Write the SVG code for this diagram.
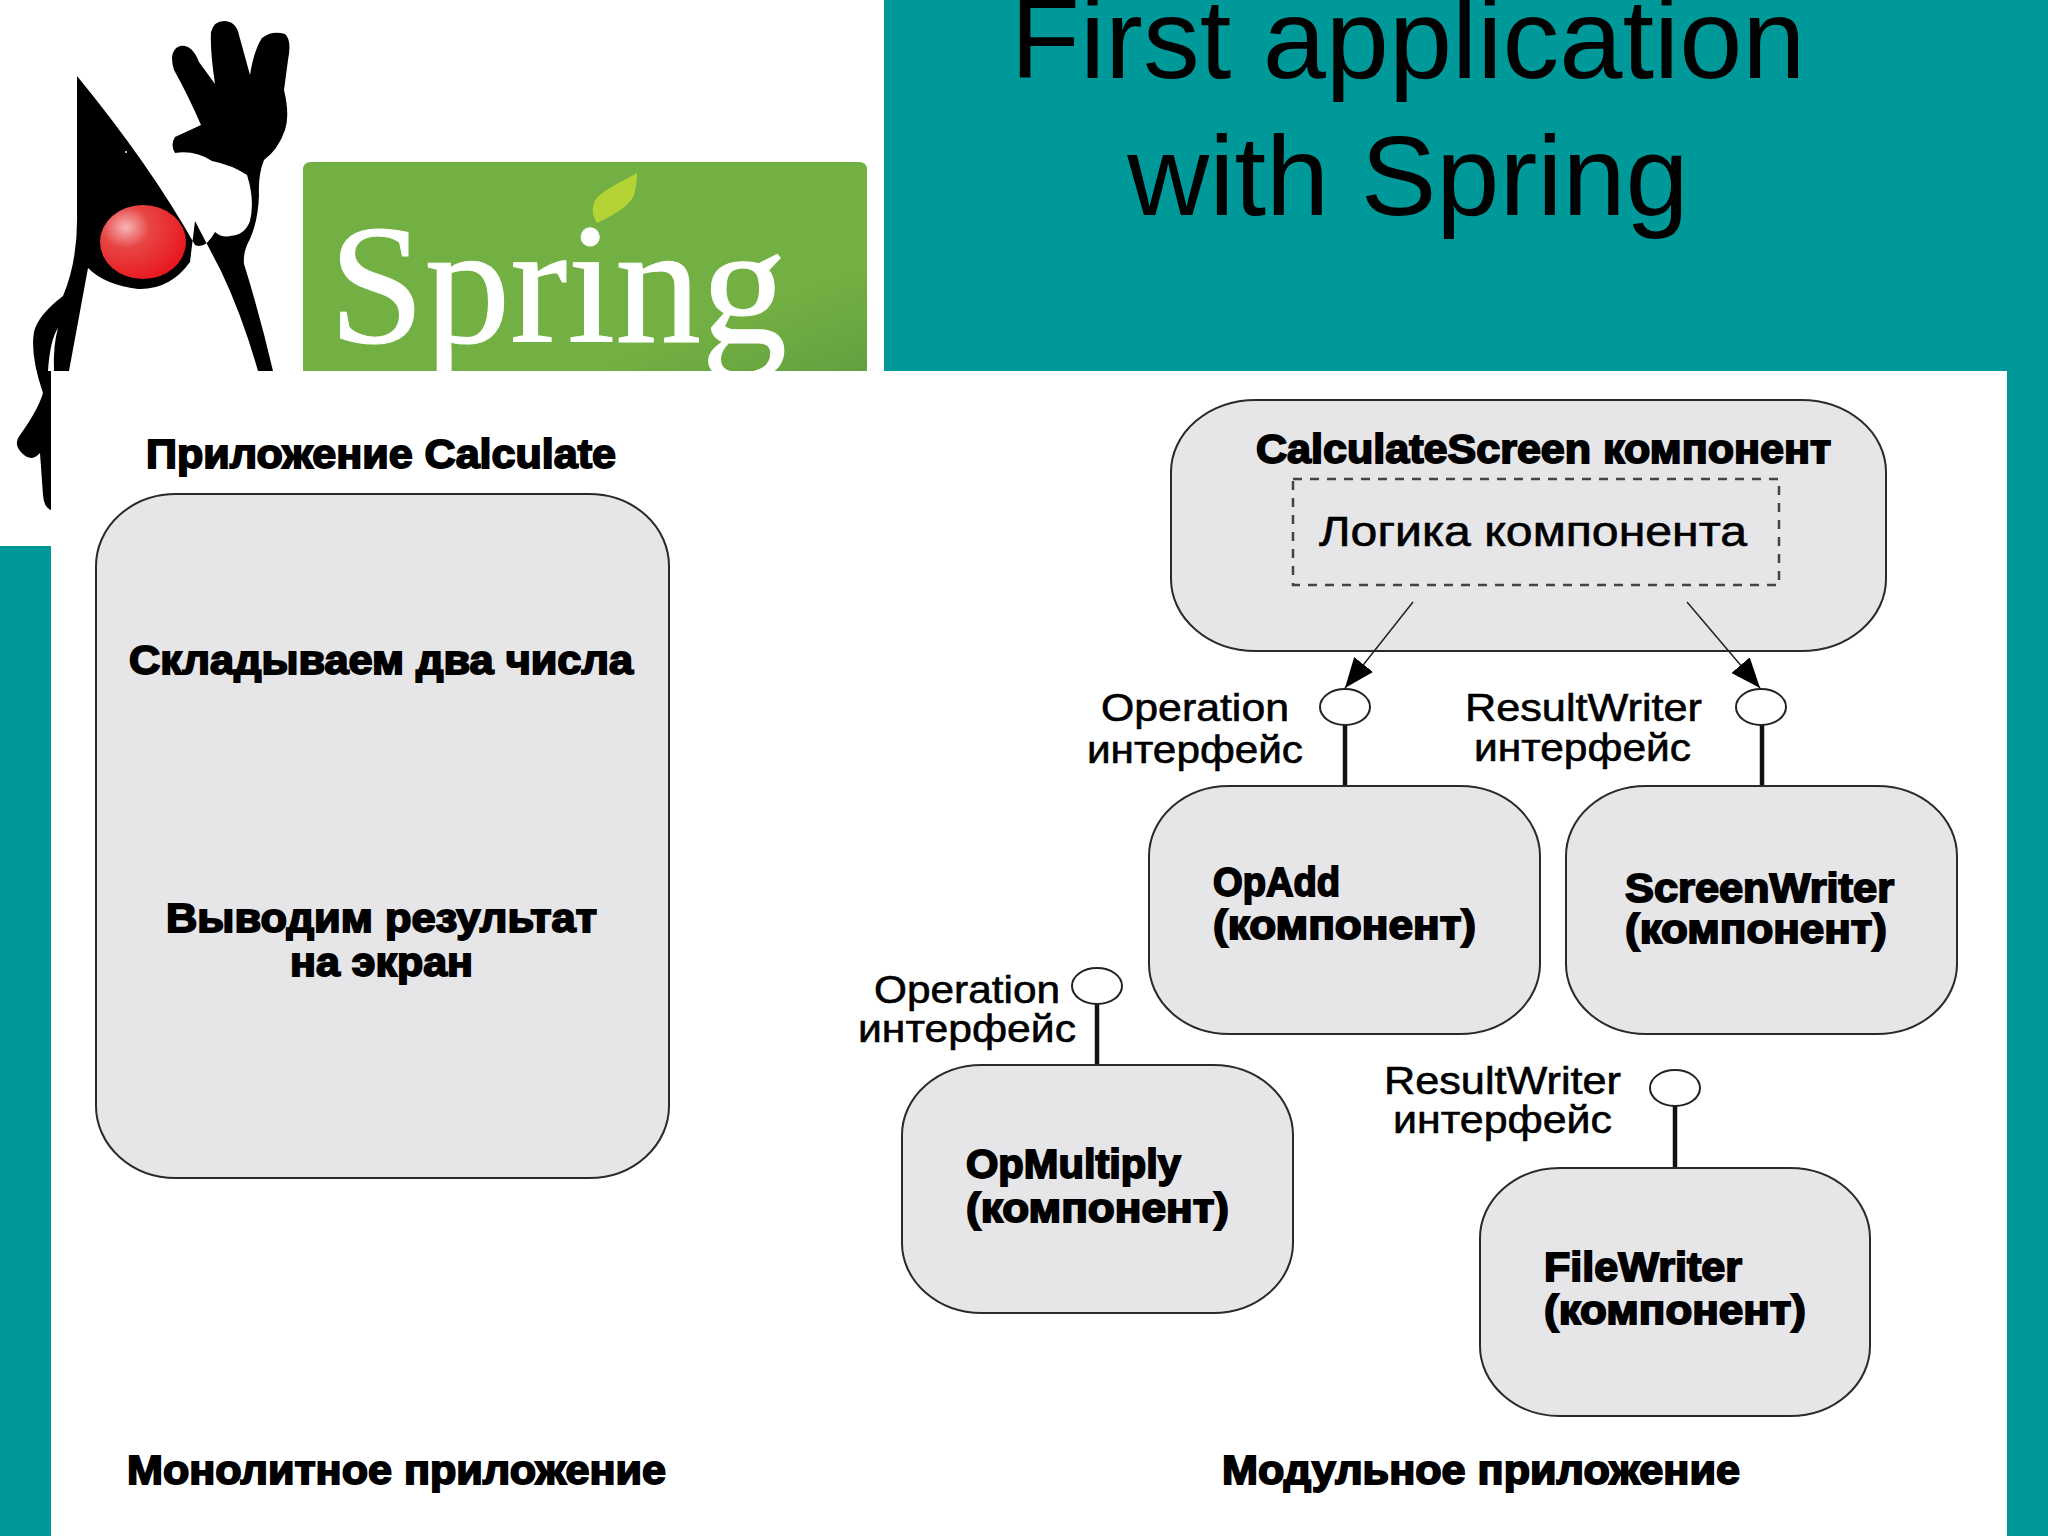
<svg xmlns="http://www.w3.org/2000/svg" width="2048" height="1536" viewBox="0 0 2048 1536">
<defs>
<marker id="arrow" markerUnits="userSpaceOnUse" markerWidth="32" markerHeight="26" refX="30" refY="12" orient="auto"><path d="M0 0L30 12L0 24Z" fill="#000"/></marker>
<radialGradient id="nose" cx="0.3" cy="0.3" r="0.8"><stop offset="0" stop-color="#f7b5b5"/><stop offset="0.35" stop-color="#e84545"/><stop offset="1" stop-color="#e8141c"/></radialGradient>
<linearGradient id="logo" x1="0.3" y1="0.3" x2="1" y2="1"><stop offset="0.65" stop-color="#72b043"/><stop offset="1" stop-color="#62a040"/></linearGradient>
</defs>
<style>
.box{fill:#e6e5e8;stroke:#2a2a2a;stroke-width:2}
.h{font-family:"Liberation Sans",Arial,sans-serif;font-weight:700;fill:#000;stroke:#000;stroke-width:1.8;font-size:40px}
.r{font-family:"Liberation Sans",Arial,sans-serif;fill:#000;stroke:#000;stroke-width:.6;font-size:38px}
.stem{stroke:#111;stroke-width:4.5;fill:none}
.thin{stroke:#222;stroke-width:1.5;fill:none;marker-end:url(#arrow)}
.lolly{fill:#fff;stroke:#222;stroke-width:2}
.title{font-family:"Liberation Sans",Arial,sans-serif;font-size:113.5px;fill:#000;text-anchor:middle}
</style>
<rect id="background" width="2048" height="1536" fill="#009999"/>
<rect id="logo-area" width="884" height="546" fill="#fff"/>
<g id="duke">
<path fill="#000" d="M77 76Q150 165 195 245Q205 250 215 232Q222 238 230 236Q245 235 250 221Q255 200 247 175Q232 165 212 161Q195 150 175 153Q170 145 175 137L201 125Q188 95 174 70Q168 50 180 46Q192 44 199 62L215 84Q210 50 211 32Q214 21 224 21Q236 21 239 35L250 75Q254 50 262 38Q272 30 285 34Q292 40 288 60L284 90Q290 115 285 130Q278 150 264 160Q258 175 259 195Q258 225 247 245Q243 255 244 264Q260 315 273 371L258 371Q242 315 221 271L195 221L190 262Q170 290 138 289Q105 285 88 268L69 371L51 371L51 510Q44 508 43 495L40 453Q32 462 24 455Q12 445 20 435Q38 410 43 393Q30 355 34 332Q38 315 63 296Q78 260 77 214Z"/>
<path fill="#fff" d="M58 328Q50 340 48 371L54 371Q53 345 58 328Z"/>
<ellipse cx="143" cy="242" rx="43" ry="37" fill="url(#nose)"/>
<circle cx="126" cy="152" r="1" fill="#fff"/>
</g>
<g id="spring-logo">
<path d="M303 372V170Q303 162 311 162H859Q867 162 867 170V372Z" fill="url(#logo)"/>
<path d="M637 173C618 184 598 192 594 203C591 212 594 218 597 223C612 216 630 206 634 195Q637 185 637 173Z" fill="#b5d334"/>
<text x="329" y="342" font-family="'Liberation Serif',serif" font-size="172" fill="#fff" stroke="#fff" stroke-width="1" textLength="458" lengthAdjust="spacingAndGlyphs">Spring</text>
</g>
<rect x="884" width="1164" height="371" fill="#009999"/>
<text class="title" x="1408" y="78">First application</text>
<text class="title" x="1408" y="215">with Spring</text>
<rect id="panel" x="51" y="371" width="1956" height="1165" fill="#fff"/>
<g id="monolith">
<rect class="box" x="96" y="494" width="573" height="684" rx="80" ry="72"/>
<text class="h" x="146" y="468" textLength="470" lengthAdjust="spacingAndGlyphs">Приложение Calculate</text>
<text class="h" x="129" y="674" textLength="504" lengthAdjust="spacingAndGlyphs">Складываем два числа</text>
<text class="h" x="166" y="932" textLength="431" lengthAdjust="spacingAndGlyphs">Выводим результат</text>
<text class="h" x="290" y="976" textLength="183" lengthAdjust="spacingAndGlyphs">на экран</text>
<text class="h" x="127" y="1484" textLength="539" lengthAdjust="spacingAndGlyphs">Монолитное приложение</text>
</g>
<g id="calculate-screen">
<rect class="box" x="1171" y="400" width="715" height="251" rx="85" ry="72"/>
<text class="h" x="1256" y="463" textLength="575" lengthAdjust="spacingAndGlyphs">CalculateScreen компонент</text>
<rect x="1293" y="479" width="486" height="106" fill="none" stroke="#444" stroke-width="2.5" stroke-dasharray="9 8"/>
<text class="r" x="1319" y="546" style="font-size:42px" textLength="428" lengthAdjust="spacingAndGlyphs">Логика компонента</text>
</g>
<g id="connectors">
<line class="thin" x1="1413" y1="602" x2="1345" y2="688"/>
<line class="thin" x1="1687" y1="602" x2="1760" y2="688"/>
<line class="stem" x1="1345" y1="725" x2="1345" y2="786"/>
<line class="stem" x1="1762" y1="725" x2="1762" y2="786"/>
<line class="stem" x1="1097" y1="1003" x2="1097" y2="1064"/>
<line class="stem" x1="1675" y1="1106" x2="1675" y2="1168"/>
</g>
<g id="op-add">
<rect class="box" x="1149" y="786" width="391" height="248" rx="80" ry="70"/>
<text class="h" x="1213" y="896" textLength="127" lengthAdjust="spacingAndGlyphs">OpAdd</text>
<text class="h" x="1213" y="939" textLength="263" lengthAdjust="spacingAndGlyphs">(компонент)</text>
</g>
<g id="screen-writer">
<rect class="box" x="1566" y="786" width="391" height="248" rx="80" ry="70"/>
<text class="h" x="1625" y="902" textLength="269" lengthAdjust="spacingAndGlyphs">ScreenWriter</text>
<text class="h" x="1625" y="943" textLength="262" lengthAdjust="spacingAndGlyphs">(компонент)</text>
</g>
<g id="op-multiply">
<rect class="box" x="902" y="1065" width="391" height="248" rx="80" ry="70"/>
<text class="h" x="966" y="1178" textLength="215" lengthAdjust="spacingAndGlyphs">OpMultiply</text>
<text class="h" x="966" y="1222" textLength="263" lengthAdjust="spacingAndGlyphs">(компонент)</text>
</g>
<g id="file-writer">
<rect class="box" x="1480" y="1168" width="390" height="248" rx="80" ry="70"/>
<text class="h" x="1544" y="1281" textLength="198" lengthAdjust="spacingAndGlyphs">FileWriter</text>
<text class="h" x="1544" y="1324" textLength="262" lengthAdjust="spacingAndGlyphs">(компонент)</text>
</g>
<g id="interface-operation-1">
<ellipse class="lolly" cx="1345" cy="707" rx="25" ry="18"/>
<text class="r" x="1101" y="721" textLength="188" lengthAdjust="spacingAndGlyphs">Operation</text>
<text class="r" x="1087" y="763" textLength="216" lengthAdjust="spacingAndGlyphs">интерфейс</text>
</g>
<g id="interface-resultwriter-1">
<ellipse class="lolly" cx="1761" cy="707" rx="25" ry="18"/>
<text class="r" x="1465" y="721" textLength="237" lengthAdjust="spacingAndGlyphs">ResultWriter</text>
<text class="r" x="1474" y="761" textLength="217" lengthAdjust="spacingAndGlyphs">интерфейс</text>
</g>
<g id="interface-operation-2">
<ellipse class="lolly" cx="1097" cy="986" rx="25" ry="18"/>
<text class="r" x="874" y="1003" textLength="186" lengthAdjust="spacingAndGlyphs">Operation</text>
<text class="r" x="858" y="1042" textLength="218" lengthAdjust="spacingAndGlyphs">интерфейс</text>
</g>
<g id="interface-resultwriter-2">
<ellipse class="lolly" cx="1675" cy="1088" rx="25" ry="18"/>
<text class="r" x="1384" y="1094" textLength="237" lengthAdjust="spacingAndGlyphs">ResultWriter</text>
<text class="r" x="1393" y="1133" textLength="219" lengthAdjust="spacingAndGlyphs">интерфейс</text>
</g>
<text class="h" x="1222" y="1484" textLength="518" lengthAdjust="spacingAndGlyphs">Модульное приложение</text>
</svg>
